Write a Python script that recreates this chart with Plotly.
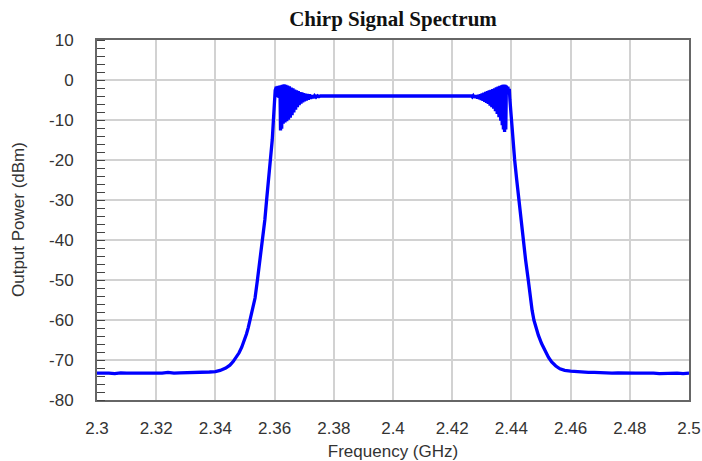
import plotly.graph_objects as go

# ---- data (frequency in GHz, power in dBm) ----
floor_left_f = [2.300, 2.302, 2.304, 2.306, 2.308, 2.310, 2.312, 2.314, 2.316, 2.318,
                2.320, 2.322, 2.324, 2.326, 2.328, 2.330, 2.332, 2.334, 2.336, 2.338, 2.340]
floor_left_p = [-73.3, -73.2, -73.3, -73.4, -73.2, -73.3, -73.3, -73.2, -73.4, -73.3,
                -73.2, -73.3, -73.1, -73.3, -73.2, -73.2, -73.1, -73.2, -73.0, -73.0, -72.9]

rise_f = [2.3416, 2.3435, 2.3449, 2.3460, 2.3472, 2.3480, 2.3489, 2.3497, 2.3505, 2.3511,
          2.3517, 2.3526, 2.3534, 2.3542, 2.3551, 2.3560, 2.3567, 2.3573, 2.3580, 2.3587,
          2.3592, 2.3596, 2.3599, 2.3602]
rise_p = [-72.6, -72.0, -71.3, -70.4, -69.2, -68.2, -66.8, -65.3, -63.5, -61.9,
          -60.1, -57.6, -54.5, -50.0, -45.0, -40.0, -35.0, -30.0, -25.0, -20.0,
          -15.0, -10.0, -6.0, -2.6]

ripple_left_f = [2.3606, 2.3609, 2.3612, 2.3615, 2.3618, 2.3620, 2.3622, 2.3624, 2.3626, 2.3629,
                 2.3632, 2.3635, 2.3638, 2.3641, 2.3644, 2.3647, 2.3650, 2.3653, 2.3656, 2.3659,
                 2.3662, 2.3665, 2.3668, 2.3671, 2.3674, 2.3677, 2.3680, 2.3683, 2.3686, 2.3689,
                 2.3692, 2.3695, 2.3698, 2.3701, 2.3704, 2.3707, 2.3710, 2.3714, 2.3718, 2.3722,
                 2.3726, 2.3730, 2.3735, 2.3740, 2.3745, 2.3750, 2.3755]
ripple_left_p = [-1.7, -4.3, -1.5, -4.5, -1.4, -12.6, -1.3, -12.2, -1.2, -10.9,
                 -1.1, -10.6, -1.2, -10.3, -1.4, -9.9, -1.6, -9.4, -1.9, -8.8,
                 -2.1, -8.1, -2.4, -7.4, -2.6, -6.8, -2.8, -6.3, -3.0, -5.9,
                 -3.1, -5.6, -3.3, -5.3, -3.4, -5.1, -3.5, -4.9, -3.6, -4.7,
                 -3.8, -4.5, -3.9, -4.3, -3.95, -4.15, -4.0]

flat_f = [2.3780, 2.3805, 2.3830, 2.3855, 2.3880, 2.3905, 2.3930, 2.3955, 2.3980, 2.4005,
          2.4030, 2.4055, 2.4080, 2.4105, 2.4130, 2.4155, 2.4180, 2.4205, 2.4230, 2.4255]
flat_p = [-4.0, -4.05, -4.0, -3.95, -4.0, -4.05, -4.0, -4.0, -3.95, -4.0,
          -4.05, -4.0, -4.0, -3.95, -4.0, -4.05, -4.0, -3.95, -4.0, -4.0]

ripple_right_f = [2.4265, 2.4268, 2.4271, 2.4274, 2.4277, 2.4280, 2.4283, 2.4286, 2.4289, 2.4292,
                  2.4295, 2.4298, 2.4301, 2.4304, 2.4307, 2.4310, 2.4313, 2.4316, 2.4319, 2.4322,
                  2.4325, 2.4328, 2.4331, 2.4334, 2.4337, 2.4340, 2.4343, 2.4346, 2.4349, 2.4352,
                  2.4355, 2.4358, 2.4361, 2.4364, 2.4367, 2.4369, 2.4371, 2.4373, 2.4375, 2.4377,
                  2.4379, 2.4381, 2.4383, 2.4386, 2.4388, 2.4391, 2.4393]
ripple_right_p = [-4.0, -4.25, -3.95, -4.35, -3.85, -4.5, -3.8, -4.65, -3.7, -4.8,
                  -3.55, -5.0, -3.35, -5.2, -3.2, -5.45, -3.0, -5.7, -2.8, -6.0,
                  -2.6, -6.4, -2.45, -6.8, -2.25, -7.2, -2.05, -7.8, -1.85, -8.5,
                  -1.65, -9.3, -1.45, -10.2, -1.3, -11.3, -1.2, -12.4, -1.1, -13.0,
                  -1.2, -12.4, -1.4, -3.6, -1.7, -3.4, -2.2]

fall_f = [2.4395, 2.4398, 2.4400, 2.4405, 2.4411, 2.4418, 2.4425, 2.4432, 2.4440, 2.4448,
          2.4457, 2.4464, 2.4470, 2.4476, 2.4483, 2.4491, 2.4502, 2.4514, 2.4525, 2.4536,
          2.4550, 2.4564, 2.4580, 2.4600, 2.4630]
fall_p = [-5.0, -8.0, -10.0, -15.0, -20.0, -25.0, -30.0, -35.0, -40.0, -45.0,
          -50.0, -54.5, -57.6, -60.0, -62.0, -63.8, -65.9, -67.8, -69.3, -70.5,
          -71.5, -72.2, -72.6, -72.8, -73.0]

floor_right_f = [2.466, 2.468, 2.470, 2.472, 2.474, 2.476, 2.478, 2.480, 2.482, 2.484,
                 2.486, 2.488, 2.490, 2.492, 2.494, 2.496, 2.498, 2.500]
floor_right_p = [-73.1, -73.1, -73.2, -73.2, -73.3, -73.2, -73.3, -73.2, -73.3, -73.3,
                 -73.2, -73.3, -73.4, -73.3, -73.3, -73.3, -73.4, -73.3]

x_tick_vals = [2.30, 2.32, 2.34, 2.36, 2.38, 2.40, 2.42, 2.44, 2.46, 2.48, 2.50]
x_tick_text = ["2.3", "2.32", "2.34", "2.36", "2.38", "2.4", "2.42", "2.44", "2.46", "2.48", "2.5"]
y_tick_vals = [10, 0, -10, -20, -30, -40, -50, -60, -70, -80]
y_tick_text = ["10", "0", "-10", "-20", "-30", "-40", "-50", "-60", "-70", "-80"]

freq = floor_left_f + rise_f + ripple_left_f + flat_f + ripple_right_f + fall_f + floor_right_f
power = floor_left_p + rise_p + ripple_left_p + flat_p + ripple_right_p + fall_p + floor_right_p

# ---- figure ----
tick_font = dict(family="Liberation Sans, Arial, sans-serif", size=17, color="#333333")

fig = go.Figure(
    go.Scatter(x=freq, y=power, mode="lines",
               line=dict(color="#0000FF", width=3.3), showlegend=False,
               hoverinfo="x+y")
)

fig.update_layout(
    width=702, height=461,
    margin=dict(l=97, r=13, t=40, b=61, autoexpand=False),
    paper_bgcolor="white", plot_bgcolor="white",
    title=dict(text="<b>Chirp Signal Spectrum</b>", x=0.5, xref="paper", xanchor="center",
               y=1 - 19 / 461, yref="container", yanchor="middle",
               font=dict(family="Liberation Serif, Times New Roman, serif", size=21, color="#111111")),
    annotations=[dict(text="Output Power (dBm)", textangle=-90, showarrow=False,
                      xref="paper", yref="paper", x=-(97 - 18) / 592, y=0.5,
                      xanchor="center", yanchor="middle", font=tick_font)],
)

fig.update_xaxes(
    range=[2.3, 2.5], tickmode="array", tickvals=x_tick_vals, ticktext=x_tick_text,
    showgrid=True, gridcolor="#d2d2d2", gridwidth=1.6,
    showline=True, linecolor="#666666", linewidth=2, mirror=True,
    ticks="", ticklabelstandoff=12, tickfont=tick_font, zeroline=False, automargin=False,
    title=dict(text="Frequency (GHz)", font=tick_font, standoff=8),
)

fig.update_yaxes(
    range=[-80, 10], tickmode="array", tickvals=y_tick_vals, ticktext=y_tick_text,
    showgrid=True, gridcolor="#d2d2d2", gridwidth=1.6,
    showline=True, linecolor="#666666", linewidth=2, mirror=True,
    ticks="", ticklabelstandoff=18, tickfont=tick_font, zeroline=False, automargin=False,
    minor=dict(ticks="inside", ticklen=8, tickwidth=1.3, tickcolor="#444444",
               dtick=2, tick0=0, showgrid=False),
)

fig.write_html("out.html")
